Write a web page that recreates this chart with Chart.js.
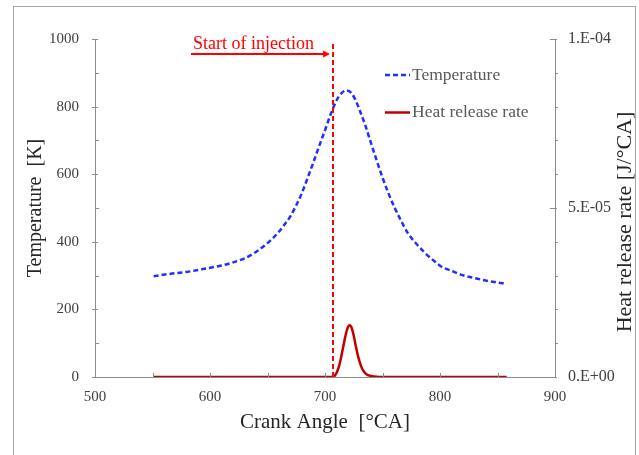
<!DOCTYPE html>
<html>
<head>
<meta charset="UTF-8">
<title>Temperature and heat release rate</title>
<script src="https://cdn.jsdelivr.net/npm/chart.js@4.4.1/dist/chart.umd.min.js"></script>
<style>
body { margin: 0; background: #fff; }
</style>
</head>
<body>
<canvas id="crank-chart" width="639" height="455"></canvas>
<script type="text/javascript">
// crank angle [deg CA] and in-cylinder temperature [K]
var tempAngle = [551, 565, 580, 595, 610, 620, 630, 640, 650, 660, 665, 670, 675, 680, 685, 690, 695, 700, 705, 710, 715, 719, 723, 727, 731, 735, 740, 745, 750, 755, 760, 765, 772, 780, 787, 795, 801, 810, 818, 827, 836, 847, 858];
var temperature = [298, 305, 311, 320, 330, 339, 351, 370, 396, 430, 452, 476, 508, 545, 590, 636, 684, 730, 778, 818, 842, 848, 840, 816, 782, 745, 692, 640, 590, 545, 505, 470, 426, 392, 367, 343, 327, 314, 303, 295, 288, 281, 276];

// crank angle and heat release rate [J/deg CA]
var hrrAngle = [551, 600, 650, 700, 706, 708, 710, 712, 714, 716, 718, 720, 721.5, 723, 725, 727, 729, 731, 733, 736, 740, 745, 750, 800, 858];
var heatRelease = [0, 0, 0, 0, 0, 0.02e-5, 0.12e-5, 0.3e-5, 0.58e-5, 0.92e-5, 1.25e-5, 1.48e-5, 1.53e-5, 1.47e-5, 1.22e-5, 0.88e-5, 0.58e-5, 0.36e-5, 0.2e-5, 0.08e-5, 0.03e-5, 0.005e-5, 0, 0, 0];

// start of injection marker
var injectionAngle = 707;
var injectionSpan = [0, 985];

var xTicks = [500, 600, 700, 800, 900];
var tempTicks = [0, 200, 400, 600, 800, 1000];
var hrrTicks = [0, 5e-5, 1e-4];
var hrrTickLabels = ['0.E+00', '5.E-05', '1.E-04'];

var serif = '"Liberation Serif", "Times New Roman", serif';
var axisGray = '#8c8c8c';

function toPoints(xs, ys) {
  var pts = [];
  for (var i = 0; i < xs.length; i++) {
    pts.push({x: xs[i], y: ys[i]});
  }
  return pts;
}

// white page with the thin frame round it
var framePlugin = {
  id: 'frame',
  beforeDraw: function(chart) {
    var ctx = chart.ctx;
    ctx.save();
    ctx.fillStyle = '#fff';
    ctx.fillRect(0, 0, chart.width, chart.height);
    ctx.strokeStyle = '#a6a6a6';
    ctx.lineWidth = 1;
    ctx.strokeRect(13.5, 6.5, 622, chart.height + 10);
    ctx.restore();
  }
};

// minor/major tick marks, legend, injection arrow and right title
var extrasPlugin = {
  id: 'extras',
  afterDraw: function(chart) {
    var ctx = chart.ctx;
    var xs = chart.scales.x, ys = chart.scales.y, y2 = chart.scales.y2;
    var area = chart.chartArea;
    ctx.save();
    ctx.strokeStyle = axisGray;
    ctx.lineWidth = 1;
    ctx.beginPath();
    var v, p;
    for (v = 500; v <= 900; v += 50) {
      p = Math.round(xs.getPixelForValue(v)) + 0.5;
      ctx.moveTo(p, area.bottom);
      ctx.lineTo(p, area.bottom - 4);
    }
    for (v = 0; v <= 1000; v += 100) {
      p = Math.round(ys.getPixelForValue(v)) + 0.5;
      if (v % 200 === 0) {
        ctx.moveTo(area.left - 3, p);
        ctx.lineTo(area.left + 3, p);
      } else {
        ctx.moveTo(area.left, p);
        ctx.lineTo(area.left + 4, p);
      }
    }
    for (var i = 0; i <= 10; i++) {
      p = Math.round(y2.getPixelForValue(i * 1e-5)) + 0.5;
      if (i % 5 === 0) {
        ctx.moveTo(area.right - 5, p);
        ctx.lineTo(area.right + 2, p);
      } else {
        ctx.moveTo(area.right, p);
        ctx.lineTo(area.right + 3, p);
      }
    }
    ctx.stroke();

    // start of injection label and arrow
    var injX = xs.getPixelForValue(injectionAngle);
    var arrowY = 54;
    ctx.strokeStyle = '#ff0000';
    ctx.fillStyle = '#ff0000';
    ctx.lineWidth = 2;
    ctx.beginPath();
    ctx.moveTo(191, arrowY);
    ctx.lineTo(injX - 8, arrowY);
    ctx.stroke();
    ctx.beginPath();
    ctx.moveTo(injX - 3, arrowY);
    ctx.lineTo(injX - 10, arrowY - 3.5);
    ctx.lineTo(injX - 10, arrowY + 3.5);
    ctx.closePath();
    ctx.fill();
    ctx.font = '18px ' + serif;
    ctx.textBaseline = 'alphabetic';
    ctx.textAlign = 'left';
    ctx.fillText('Start of injection', 193, 49);

    // legend
    var ds = chart.data.datasets;
    var rows = [{d: ds[1], y: 75}, {d: ds[2], y: 112.5}];
    ctx.font = '17.5px ' + serif;
    ctx.textBaseline = 'middle';
    rows.forEach(function(r) {
      ctx.strokeStyle = r.d.borderColor;
      ctx.lineWidth = r.d.borderWidth;
      ctx.setLineDash(r.d.borderDash || []);
      ctx.beginPath();
      ctx.moveTo(385, r.y);
      ctx.lineTo(410, r.y);
      ctx.stroke();
      ctx.setLineDash([]);
      ctx.fillStyle = '#595959';
      ctx.fillText(r.d.label, 412, r.y);
    });

    // right axis title, reading bottom to top
    ctx.fillStyle = '#262626';
    ctx.font = '22px ' + serif;
    ctx.textAlign = 'center';
    ctx.textBaseline = 'middle';
    ctx.translate(625, 222);
    ctx.rotate(-Math.PI / 2);
    ctx.fillText('Heat release rate [J/\u00B0CA]', 0, 0);
    ctx.restore();
  }
};

new Chart(document.getElementById('crank-chart'), {
  type: 'line',
  data: {
    datasets: [
      {
        label: 'Start of injection',
        data: toPoints([injectionAngle, injectionAngle], injectionSpan),
        yAxisID: 'y',
        borderColor: '#ff0000',
        borderWidth: 2,
        borderDash: [5, 3],
        pointRadius: 0,
        order: 0
      },
      {
        label: 'Temperature',
        data: toPoints(tempAngle, temperature),
        yAxisID: 'y',
        borderColor: '#1f2fff',
        borderWidth: 2.5,
        borderDash: [5, 3],
        pointRadius: 0,
        cubicInterpolationMode: 'monotone',
        order: 1
      },
      {
        label: 'Heat release rate',
        data: toPoints(hrrAngle, heatRelease),
        yAxisID: 'y2',
        borderColor: '#c00000',
        borderWidth: 2.5,
        pointRadius: 0,
        cubicInterpolationMode: 'monotone',
        order: 2
      }
    ]
  },
  options: {
    responsive: false,
    animation: false,
    devicePixelRatio: 1,
    layout: { padding: { top: 39 } },
    plugins: {
      legend: { display: false },
      tooltip: { enabled: false }
    },
    scales: {
      x: {
        type: 'linear',
        position: 'bottom',
        min: 500,
        max: 900,
        afterBuildTicks: function(s) { s.ticks = xTicks.map(function(v) { return {value: v}; }); },
        afterFit: function(s) { s.height = 78; },
        grid: { display: false, drawTicks: false },
        border: { display: true, color: axisGray, width: 1 },
        ticks: {
          color: '#404040',
          padding: 11,
          maxRotation: 0,
          font: { family: serif, size: 15 },
          callback: function(value) { return String(value); }
        },
        title: {
          display: true,
          text: 'Crank Angle  [\u00B0CA]',
          color: '#262626',
          font: { family: serif, size: 21 },
          padding: { top: 0, bottom: 20 }
        }
      },
      y: {
        type: 'linear',
        position: 'left',
        min: 0,
        max: 1000,
        afterBuildTicks: function(s) { s.ticks = tempTicks.map(function(v) { return {value: v}; }); },
        afterFit: function(s) { s.width = 95; },
        grid: { display: false, drawTicks: false },
        border: { display: true, color: axisGray, width: 1 },
        ticks: {
          color: '#404040',
          padding: 16,
          font: { family: serif, size: 15 },
          callback: function(value) { return String(value); }
        },
        title: {
          display: true,
          text: 'Temperature  [K]',
          color: '#262626',
          font: { family: serif, size: 20 },
          padding: { top: 24, bottom: 0 }
        }
      },
      y2: {
        type: 'linear',
        position: 'right',
        min: 0,
        max: 1e-4,
        afterBuildTicks: function(s) { s.ticks = hrrTicks.map(function(v) { return {value: v}; }); },
        afterFit: function(s) { s.width = 84; },
        grid: { display: false, drawTicks: false },
        border: { display: true, color: axisGray, width: 1 },
        ticks: {
          color: '#404040',
          padding: 13,
          font: { family: serif, size: 16 },
          callback: function(value, index) { return hrrTickLabels[index]; }
        }
      }
    }
  },
  plugins: [framePlugin, extrasPlugin]
});
</script>
</body>
</html>
